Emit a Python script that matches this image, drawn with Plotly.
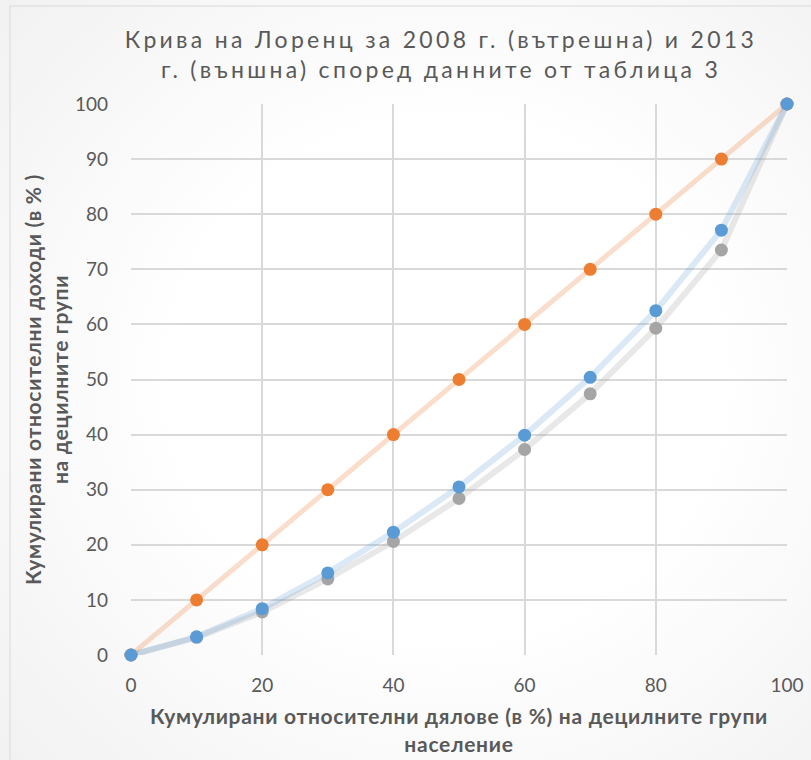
import plotly.graph_objects as go

x_shares = [0, 10, 20, 30, 40, 50, 60, 70, 80, 90, 100]
equality = [0, 10, 20, 30, 40, 50, 60, 70, 80, 90, 100]
lorenz_2008 = [0, 3.3, 8.4, 14.9, 22.3, 30.5, 39.9, 50.4, 62.5, 77.1, 100]
lorenz_2013 = [0, 3.2, 7.8, 13.8, 20.6, 28.4, 37.3, 47.4, 59.3, 73.5, 100]

x_ticks = [0, 20, 40, 60, 80, 100]
y_ticks = [0, 10, 20, 30, 40, 50, 60, 70, 80, 90, 100]

title_text = "Крива на Лоренц за 2008 г. (вътрешна) и 2013<br>г. (външна) според данните от таблица 3"
x_title = "<b>Кумулирани относителни дялове (в %) на децилните групи<br>население</b>"
y_title = "<b>Кумулирани относителни доходи (в % )<br>на децилните групи</b>"

FONT = "Lato, Carlito, 'Open Sans', sans-serif"
GREY_TXT = "#595959"

fig = go.Figure()

fig.add_trace(go.Scatter(
    x=x_shares, y=equality, mode="lines+markers", name="Равенство", cliponaxis=False,
    line=dict(color="rgba(237,125,49,0.25)", width=5),
    marker=dict(color="#ED7D31", size=13),
))
fig.add_trace(go.Scatter(
    x=x_shares, y=lorenz_2013, mode="lines+markers", name="2013", cliponaxis=False,
    line=dict(color="rgba(165,165,165,0.25)", width=6),
    marker=dict(color="#A5A5A5", size=13),
))
fig.add_trace(go.Scatter(
    x=x_shares, y=lorenz_2008, mode="lines+markers", name="2008", cliponaxis=False,
    line=dict(color="rgba(91,155,213,0.22)", width=6),
    marker=dict(color="#5B9BD5", size=13),
))

fig.update_layout(
    width=811, height=760,
    margin=dict(l=131, r=24, t=104, b=105, autoexpand=False),
    paper_bgcolor="rgba(0,0,0,0)", plot_bgcolor="rgba(0,0,0,0)",
    showlegend=False,
    font=dict(family=FONT, color=GREY_TXT),
    title=dict(
        text=title_text, x=441/811, xanchor="center", y=1 - 48/760, yanchor="top",
        font=dict(size=23, color=GREY_TXT, family=FONT),
    ),
    xaxis=dict(
        range=[0, 100], tickvals=x_ticks, showgrid=True, gridcolor="#D9D9D9", gridwidth=1.5,
        zeroline=False, showline=False, ticks="", ticklabelstandoff=17, automargin=False,
        tickfont=dict(size=19, color=GREY_TXT),
        title=dict(text=x_title, font=dict(size=21, color=GREY_TXT, family=FONT), standoff=14),
    ),
    yaxis=dict(
        range=[0, 100], tickvals=y_ticks, showgrid=True, gridcolor="#D9D9D9", gridwidth=1.5,
        zeroline=False, showline=False, ticks="", ticklabelstandoff=22, automargin=False,
        tickfont=dict(size=19, color=GREY_TXT),
        title=dict(text=y_title, font=dict(size=21, color=GREY_TXT, family=FONT), standoff=0),
    ),
)

fig.add_shape(type="rect", xref="paper", yref="paper",
              x0=(10 - 131) / 656, x1=(880 - 131) / 656,
              y0=(655 - 770) / 551, y1=(655 - 6) / 551,
              line=dict(color="#D9D9D9", width=1), fillcolor="rgba(0,0,0,0)", layer="below")

post = """
var s = document.createElement('style');
s.textContent = 'html, body { margin: 0; padding: 0; background: radial-gradient(ellipse 75% 75% at 55% 50%, #ffffff 45%, #f1f1f1 100%); min-height: 760px; } .gtitle { letter-spacing: 3.3px; } .g-xtitle text, .g-ytitle text { letter-spacing: 0.7px; }';
document.head.appendChild(s);
"""

fig.write_html("out.html", post_script=post, config={"displayModeBar": False})
